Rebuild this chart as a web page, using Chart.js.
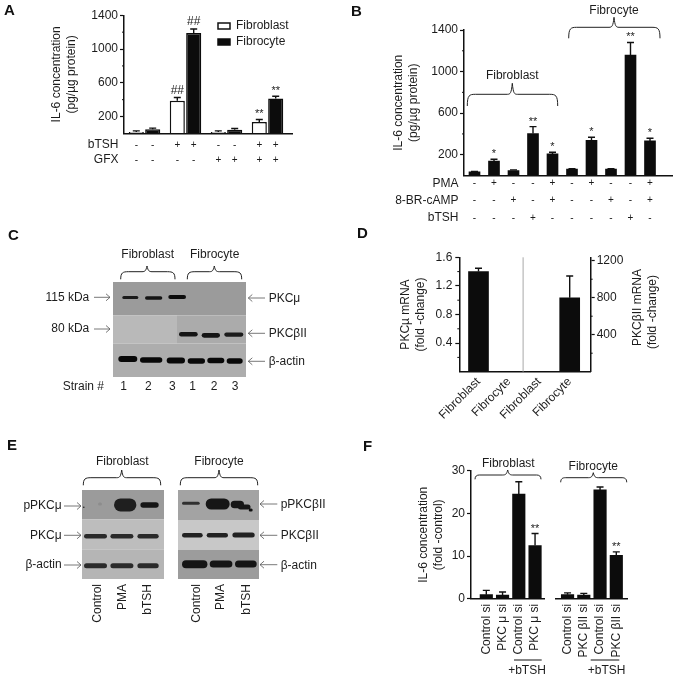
<!DOCTYPE html>
<html><head><meta charset="utf-8">
<script src="https://cdn.jsdelivr.net/npm/chart.js@4/dist/chart.umd.min.js"></script>
<style>
html,body{margin:0;padding:0;background:#fff}
#page{position:relative;width:676px;height:678px;overflow:hidden;background:#fff;font-family:"Liberation Sans",Arial,sans-serif;color:#1c1c1c;filter:blur(0.3px)}
canvas{position:absolute}
svg{position:absolute;left:0;top:0}
.t{position:absolute;font-size:12px;line-height:14px;white-space:nowrap}
.p{font-weight:bold;font-size:15px;color:#111}
</style></head><body><div id="page"></div>
<script>
/* ---------- DATA ---------- */
const aGroups=['Untreated','bTSH','GFX','bTSH + GFX'];
const aFibroblast=[16,386,16,134];
const aFibroblastTop=[30,425,30,165];
const aFibroblastMarks=['','##','','**'];
const aFibrocyte=[50,1190,43,414];
const aFibrocyteTop=[62,1237,58,441];
const aFibrocyteMarks=['','##','','**'];
const aRowBtsh=['-','-','+','+','-','-','+','+'];
const aRowGfx=['-','-','-','-','+','+','+','+'];

const bCategories=['Fb ctrl','Fb PMA','Fb cAMP','Fb bTSH','Fb PMA+cAMP','Fc ctrl','Fc PMA','Fc cAMP','Fc bTSH','Fc PMA+cAMP'];
const bValues=[35,138,48,403,208,61,339,61,1158,333];
const bTops=[40,157,54,470,224,66,368,66,1280,358];
const bMarks=['','*','','**','*','','*','','**','*'];
const bRowPma=['-','+','-','-','+','-','+','-','-','+'];
const bRowCamp=['-','-','+','-','+','-','-','+','-','+'];
const bRowBtsh=['-','-','-','+','-','-','-','-','+','-'];

const dCategories=['Fibroblast','Fibrocyte','Fibroblast','Fibrocyte'];
const dPkcMu=[1.4,0,null,null];
const dPkcMuTop=[1.446,null,null,null];
const dPkcBeta=[null,null,0,800];
const dPkcBetaTop=[null,null,null,1035];
const dRightTicks=[0,200,400,600,800,1000,1200];

const fCategories=['Control si','PKC μ si','Control si','PKC μ si','','Control si','PKC βII si','Control si','PKC βII si'];
const fValues=[1.0,0.9,24.5,12.5,null,1.0,0.9,25.5,10.2];
const fTops=[2.0,1.6,27.4,15.3,null,1.4,1.3,26.2,11.0];
const fMarks=['','','','**','','','','','**'];

/* blot bands: [start, end, row position, thickness, shade] */
const cBands=[
[9.3,25.3,15.6,3,'#1a1a1a'],[32,49.3,16,3.5,'#141414'],[55.3,73,15,4,'#0c0c0c'],
[66,84.7,52.3,4.5,'#141414'],[88.7,107,53.3,4.7,'#141414'],[111.3,130.3,52.6,4.1,'#1c1c1c'],
[5.3,24.3,77,6,'#080808'],[27,49.3,78,5.5,'#080808'],[53.7,72,78.6,6,'#080808'],
[74.7,92,79,5.5,'#080808'],[94.3,111.3,78.6,5.5,'#080808'],[113.7,129.7,79,5.5,'#080808']];
const cRegions=[[0,133,0,33.5,'#9b9b9b'],[0,64,33.5,61.5,'#b9b9b9'],[64,133,33.5,61.5,'#ababab'],[0,133,61.5,95,'#adadad']];
const eLeftBands=[
[1,1.8,17.3,1.6,'#222'],[16,20,14,3,'#8d8d8d'],[32,54.4,15,13,'#1f1f1f'],[58.4,76.7,15,5.5,'#141414'],
[2,25,46.3,4.5,'#2a2a2a'],[28.4,51.4,46.3,4.5,'#2a2a2a'],[55.4,76.7,46.3,4.5,'#2a2a2a'],
[2,25,76,5,'#2a2a2a'],[28.4,51.4,76,5,'#2a2a2a'],[55.4,76.7,76,5,'#2a2a2a']];
const eLeftRegions=[[0,82,0,29.5,'#9b9b9b'],[0,82,29.5,60,'#bdbdbd'],[0,82,60,89.3,'#b5b5b5']];
const eRightBands=[
[4,21.7,13.3,3,'#303030'],[27.7,51.7,14,11,'#161616'],[52.7,66,14.6,7.5,'#161616'],[60,72.5,17,5,'#161616'],[71.7,73.7,20,3,'#111'],
[4,24.7,45.3,4.5,'#222'],[28.7,50,45.3,4.5,'#222'],[54.4,76.7,45,5,'#222'],
[4,29.4,74.3,8,'#151515'],[31.7,54.4,74,7,'#151515'],[57,78.7,74,7,'#151515']];
const eRightRegions=[[0,81,0,30,'#a3a3a3'],[0,81,30,60,'#c8c8c8'],[0,81,60,89,'#9c9c9c']];

/* ---------- HELPERS ---------- */
const FONT='"Liberation Sans",Arial,sans-serif', INK='#1c1c1c', BLACK='#0c0c0c';
Chart.defaults.font.family=FONT; Chart.defaults.font.size=12; Chart.defaults.color=INK;
const page=document.getElementById('page');
function mk(box){const c=document.createElement('canvas');c.width=box.w;c.height=box.h;c.style.left=box.x+'px';c.style.top=box.y+'px';c.style.width=box.w+'px';c.style.height=box.h+'px';page.appendChild(c);return c;}
function txt(s,x,y,o={}){const d=document.createElement('div');d.className='t '+(o.cls||'');d.textContent=s;
 d.style.left=x+'px';d.style.top=y+'px';
 const a=o.anchor||'start';
 const tx=a=='end'?'-100%':a=='middle'?'-50%':'0';
 d.style.transform=o.rot?'rotate(-90deg) translate(-100%,-50%)':`translate(${tx},-50%)`;
 if(o.rot)d.style.transformOrigin='0 0';
 if(o.size)d.style.fontSize=o.size+'px';
 page.appendChild(d);}
function slotFit(plotL,plotR,first,step){return s=>{s._startValue=-(first-plotL)/step;s._valueRange=(plotR-plotL)/step;};}
function fixW(w){return s=>{s.width=w;s.paddingLeft=s.paddingRight=s.paddingTop=s.paddingBottom=0;};}
function fixH(h){return s=>{s.height=h;s.paddingLeft=s.paddingRight=s.paddingTop=s.paddingBottom=0;};}
function yAxis(o){
 return Object.assign({type:'linear',min:o.min||0,max:o.max,position:o.position||'left',
  afterFit:fixW(o.w),afterBuildTicks:o.tickValues?s=>{s.ticks=o.tickValues.map(value=>({value}));}:undefined,
  border:{color:'#111',width:1.5},
  grid:{drawOnChartArea:false,drawTicks:true,tickLength:4,tickWidth:1.2,
    tickColor:c=>o.isMajor(c.tick.value)?'#111':'rgba(0,0,0,0)'},
  ticks:{stepSize:o.step,autoSkip:false,padding:o.pad||2,color:INK,font:{size:12},
    callback:(v)=>o.labelled(v)?o.fmt(v):''},
  title:o.title?{display:true,text:o.title,color:INK,font:{size:12,lineHeight:1.25},padding:0}:{display:false}
 });
}
/* shared figure plugin: error bars, marks, +/- rows, minor ticks */
const figurePlugin={id:'figure',
 afterDatasetsDraw(ch){
  const ctx=ch.ctx;ctx.save();ctx.strokeStyle='#111';ctx.lineWidth=1.4;
  ch.data.datasets.forEach((ds,di)=>{
   const meta=ch.getDatasetMeta(di),sc=ch.scales[meta.yAxisID];
   meta.data.forEach((bar,i)=>{
    const top=ds.tops&&ds.tops[i];
    if(top==null||ds.data[i]==null)return;
    const y=sc.getPixelForValue(top),y0=sc.getPixelForValue(ds.data[i]);
    ctx.beginPath();ctx.moveTo(bar.x,y0);ctx.lineTo(bar.x,y);ctx.moveTo(bar.x-3.5,y);ctx.lineTo(bar.x+3.5,y);ctx.stroke();
    const mark=ds.marks&&ds.marks[i];
    if(mark){ctx.save();ctx.fillStyle=INK;ctx.textAlign='center';ctx.textBaseline='alphabetic';
      const hash=mark[0]=='#';ctx.font=(hash?12:11)+'px '+FONT;
      ctx.fillText(mark,bar.x,y-(hash?4:2));ctx.restore();}
   });
  });
  ctx.restore();
 },
 afterDraw(ch){
  const ctx=ch.ctx,o=ch.options.plugins.figure||{};
  ctx.save();
  /* minor ticks */
  Object.values(ch.scales).forEach(s=>{ if(s.axis!='y'||!s.options.minorLen)return;
    ctx.strokeStyle='#111';ctx.lineWidth=1;
    s.ticks.forEach(t=>{ if(t.label!==''||t.value===0)return;
      const y=s.getPixelForValue(t.value),x=s.position=='left'?s.right:s.left,d=s.position=='left'?-s.options.minorLen:s.options.minorLen;
      ctx.beginPath();ctx.moveTo(x,y);ctx.lineTo(x+d,y);ctx.stroke();});
  });
  /* +/- rows below the bars */
  if(o.rows){
    const xs=[];const n=ch.data.labels.length;
    for(let i=0;i<n;i++)ch.data.datasets.forEach((d,di)=>xs.push(ch.getDatasetMeta(di).data[i].x));
    o.rows.forEach(r=>{
      ctx.fillStyle=INK;ctx.textBaseline='middle';ctx.textAlign='right';ctx.font='12px '+FONT;
      ctx.fillText(r.name,o.labelX,r.y);
      ctx.textAlign='center';ctx.font='10px '+FONT;
      r.flags.forEach((f,i)=>ctx.fillText(f,xs[i],r.y));
    });
  }
  /* divider between two category pairs */
  if(o.divider){const s=ch.scales.x,x=(s.getPixelForValue(1)+s.getPixelForValue(2))/2-1;
    ctx.strokeStyle='#a8a8a8';ctx.lineWidth=1;ctx.beginPath();ctx.moveTo(x,ch.chartArea.top);ctx.lineTo(x,ch.chartArea.bottom);ctx.stroke();}
  /* break in the baseline at the blank slot */
  if(o.gapSlot!=null){const s=ch.scales.x,x=s.getPixelForValue(o.gapSlot);
    ctx.clearRect(x-6,ch.chartArea.bottom-2,10,4);}
  ctx.restore();
 },
 afterLayout(ch){const o=ch.options.plugins.figure||{},l=ch.legend;
  if(o.legendAt&&l){const w=l.width,h=l.height;l.left=o.legendAt[0];l.top=o.legendAt[1];l.right=l.left+w;l.bottom=l.top+h;}
 }
};
function barChart(box,plot,cfg){
 const c=mk(box);
 const axisW=plot.l-cfg.titleX+7.5;
 const rW=cfg.rightW||0,xH=cfg.xH||0;
 const scales={x:Object.assign({type:'category',offset:true,afterBuildTicks:slotFit(plot.l,plot.r,cfg.first,cfg.step),afterFit:fixH(xH),
    border:{color:'#111',width:1.5},grid:{display:false,drawTicks:false},ticks:{display:false}},cfg.x||{})};
 Object.assign(scales,cfg.scales(axisW));
 return new Chart(c,{type:'bar',data:{labels:cfg.labels,datasets:cfg.datasets},plugins:[figurePlugin],
  options:{responsive:false,animation:false,devicePixelRatio:1,
   layout:{padding:{left:cfg.titleX-7.5-box.x,top:plot.t-box.y,right:box.x+box.w-plot.r-rW,bottom:box.y+box.h-plot.b-xH}},
   scales,
   plugins:{legend:cfg.legend||{display:false},tooltip:{enabled:false},title:{display:false},figure:cfg.figure||{}}}});
}

/* ---------- PANEL A ---------- */
const aMajor=v=>v%400==200;
barChart({x:0,y:0,w:340,h:200},{l:124,r:292.5,t:15.3,b:133.4},{
 titleX:57,labels:aGroups,first:144.5,step:41,
 datasets:[
  {label:'Fibroblast',data:aFibroblast,tops:aFibroblastTop,marks:aFibroblastMarks,backgroundColor:'#fff',borderColor:'#111',borderWidth:1.5,categoryPercentage:.8,barPercentage:.92},
  {label:'Fibrocyte',data:aFibrocyte,tops:aFibrocyteTop,marks:aFibrocyteMarks,backgroundColor:BLACK,borderColor:BLACK,borderWidth:1.5,categoryPercentage:.8,barPercentage:.92}],
 scales:w=>({y:Object.assign(yAxis({max:1400,step:200,w,isMajor:aMajor,labelled:aMajor,fmt:String,title:['IL-6 concentration','(pg/µg protein)']}),{minorLen:2})}),
 legend:{display:true,position:'chartArea',align:'start',labels:{boxWidth:12,boxHeight:6,padding:4,color:INK,font:{size:12},textAlign:'left'}},
 figure:{labelX:118.5,legendAt:[214,16],rows:[{name:'bTSH',flags:aRowBtsh,y:145},{name:'GFX',flags:aRowGfx,y:160}]}
});

/* ---------- PANEL B ---------- */
barChart({x:340,y:0,w:336,h:240},{l:464,r:672,t:30,b:175.5},{
 titleX:399,labels:bCategories,first:474.5,step:19.5,
 datasets:[{data:bValues,tops:bTops,marks:bMarks,backgroundColor:BLACK,barThickness:11}],
 scales:w=>({y:Object.assign(yAxis({max:1400,step:200,w,isMajor:aMajor,labelled:aMajor,fmt:String,title:['IL-6 concentration','(pg/µg protein)']}),{minorLen:2})}),
 figure:{labelX:118.5,rows:[{name:'PMA',flags:bRowPma,y:183.3},{name:'8-BR-cAMP',flags:bRowCamp,y:200.7},{name:'bTSH',flags:bRowBtsh,y:218}]}
});

/* ---------- PANEL D ---------- */
const dMajor=v=>Math.round(v*10)%4==0&&v>0.01, d2Major=v=>v%400==0&&v>0;
barChart({x:360,y:235,w:316,h:195},{l:459.3,r:590.7,t:257.3,b:371.7},{
 titleX:405.7,labels:dCategories,first:478.5,step:30.4,rightW:40,xH:58,
 x:{ticks:{display:true,autoSkip:false,minRotation:45,maxRotation:45,padding:3,color:INK,font:{size:12}}},
 datasets:[
  {data:dPkcMu,tops:dPkcMuTop,yAxisID:'y',stack:'m',backgroundColor:BLACK,barThickness:20},
  {data:dPkcBeta,tops:dPkcBetaTop,yAxisID:'y2',stack:'m',backgroundColor:BLACK,barThickness:20}],
 scales:w=>({
  y:Object.assign(yAxis({max:1.6,step:.2,w,isMajor:dMajor,labelled:dMajor,fmt:v=>v.toFixed(1),pad:3,title:['PKCµ mRNA','(fold -change)']}),{minorLen:2}),
  y2:Object.assign(yAxis({max:1237,w:40,position:'right',tickValues:dRightTicks,isMajor:d2Major,labelled:d2Major,fmt:String}),{minorLen:2})}),
 figure:{divider:true}
});
txt('PKCβII mRNA',636.7,269,{rot:true});
txt('(fold -change)',652.3,275,{rot:true});

/* ---------- PANEL F ---------- */
const fMajor=v=>v%10==0;
barChart({x:360,y:440,w:316,h:238},{l:471,r:627,t:470.7,b:598.9},{
 titleX:424,labels:fCategories,first:486.3,step:16.25,xH:60,
 x:{ticks:{display:true,autoSkip:false,minRotation:90,maxRotation:90,padding:5,color:INK,font:{size:12}}},
 datasets:[{data:fValues,tops:fTops,marks:fMarks,backgroundColor:BLACK,barThickness:12.5}],
 scales:w=>({y:yAxis({max:30,step:10,w,isMajor:fMajor,labelled:fMajor,fmt:String,title:['IL-6 concentration','(fold -control)']})}),
 figure:{gapSlot:4}
});

/* ---------- BLOTS ---------- */
const blurPlugin={id:'blotBlur',
 beforeDraw(ch){const o=ch.options.plugins.blotBlur,x=ch.scales.x,y=ch.scales.y,ctx=ch.ctx;
  o.regions.forEach(r=>{ctx.fillStyle=r[4];ctx.fillRect(x.getPixelForValue(r[0]),y.getPixelForValue(r[2]),x.getPixelForValue(r[1])-x.getPixelForValue(r[0]),y.getPixelForValue(r[3])-y.getPixelForValue(r[2]));});},
 beforeDatasetsDraw(ch){ch.ctx.save();ch.ctx.filter='blur(0.7px)';},
 afterDatasetsDraw(ch){ch.ctx.restore();}};
function blot(box,regions,bands){
 const c=mk(box);
 new Chart(c,{type:'scatter',plugins:[blurPlugin],
  data:{datasets:bands.map(b=>({data:[{x:b[0]+b[3]/2,y:b[2]},{x:b[1]-b[3]/2,y:b[2]}],showLine:true,pointRadius:0,borderWidth:b[3],borderColor:b[4],borderCapStyle:'round',clip:false}))},
  options:{responsive:false,animation:false,devicePixelRatio:1,layout:{padding:0},
   scales:{x:{type:'linear',min:0,max:box.w,display:false},y:{type:'linear',min:0,max:box.h,reverse:true,display:false}},
   plugins:{legend:{display:false},tooltip:{enabled:false},blotBlur:{regions}}}});
}
blot({x:113,y:281.7,w:133,h:95},cRegions,cBands);
blot({x:82.3,y:490,w:82,h:89.3},eLeftRegions,eLeftBands);
blot({x:178.3,y:490,w:81,h:89},eRightRegions,eRightBands);

/* ---------- BRACES, ARROWS, RULES ---------- */
const NS='http://www.w3.org/2000/svg';
const svg=document.createElementNS(NS,'svg');svg.setAttribute('width',676);svg.setAttribute('height',678);page.appendChild(svg);
function path(d,col,w){const p=document.createElementNS(NS,'path');p.setAttribute('d',d);p.setAttribute('fill','none');p.setAttribute('stroke',col);p.setAttribute('stroke-width',w);svg.appendChild(p);}
function brace(x0,x1,tip,yEnd,y,tipY){
 const r=Math.min(8,yEnd-y);
 path(`M${x0} ${yEnd} C${x0} ${y+1} ${x0+2} ${y} ${x0+r} ${y} L${tip-5} ${y} C${tip-2} ${y} ${tip-1} ${y-1} ${tip} ${tipY} C${tip+1} ${y-1} ${tip+2} ${y} ${tip+5} ${y} L${x1-r} ${y} C${x1-2} ${y} ${x1} ${y+1} ${x1} ${yEnd}`,'#222',1);
}
function arrowR(x0,x1,y){path(`M${x0} ${y} L${x1} ${y} M${x1-4} ${y-3.5} L${x1} ${y} L${x1-4} ${y+3.5}`,'#555',.8);}
function arrowL(x0,x1,y){path(`M${x1} ${y} L${x0} ${y} M${x0+4} ${y-3.5} L${x0} ${y} L${x0+4} ${y+3.5}`,'#555',.8);}
brace(467.3,557.7,512.3,106,94.3,83.3);
brace(568.7,660,614,38.3,27.3,17.3);
brace(120.7,175,147,279.3,271.7,266);
brace(187.3,241.7,214.3,279.3,271.7,266);
brace(83.3,160.7,121.7,485.3,477.7,470);
brace(180.3,257.7,219,485.3,477.7,470);
brace(475,541,507.7,479.3,475,470);
brace(560.7,626.7,593.3,482.3,477.7,472.7);
arrowR(94,110,297.3);arrowR(94,110,329);
arrowL(248.3,265,298);arrowL(248.3,265,333.3);arrowL(248.3,265,361.3);
arrowR(64,81,506);arrowR(64,81,535.3);arrowR(64,81,565);
arrowL(260,277.3,504);arrowL(260,277.3,535.3);arrowL(260,277.3,564.7);
path('M514 660 L541.7 660','#111',1);path('M590.7 660 L619.3 660','#111',1);

/* ---------- TEXT ---------- */
[['A',4,10],['B',351,11],['C',8,235],['D',357,233],['E',7,445],['F',363,446]].forEach(a=>txt(a[0],a[1],a[2],{cls:'p'}));
txt('Fibroblast',512.3,75,{anchor:'middle'});txt('Fibrocyte',614,10,{anchor:'middle'});
txt('Fibroblast',147.7,254,{anchor:'middle'});txt('Fibrocyte',214.7,254,{anchor:'middle'});
txt('115 kDa',89.3,296.7,{anchor:'end'});txt('80 kDa',89.3,328.3,{anchor:'end'});
txt('PKCμ',268.7,298);txt('PKCβII',268.7,333);txt('β-actin',268.7,361);
txt('Strain #',62.7,385.7);
[['1',123.7],['2',148.3],['3',172.3],['1',192.7],['2',214],['3',235]].forEach(a=>txt(a[0],a[1],385.7,{anchor:'middle'}));
txt('Fibroblast',122.3,461,{anchor:'middle'});txt('Fibrocyte',219,461,{anchor:'middle'});
txt('pPKCμ',61.7,505.3,{anchor:'end'});txt('PKCμ',61.7,535,{anchor:'end'});txt('β-actin',61.7,564.3,{anchor:'end'});
txt('pPKCβII',280.7,504);txt('PKCβII',280.7,535);txt('β-actin',280.7,564.5);
[['Control',96.7],['PMA',122.3],['bTSH',147],['Control',195.7],['PMA',220],['bTSH',245.7]].forEach(a=>txt(a[0],a[1],584,{rot:true}));
txt('Fibroblast',508.3,463.3,{anchor:'middle'});txt('Fibrocyte',593.3,466,{anchor:'middle'});
txt('+bTSH',527,670,{anchor:'middle'});txt('+bTSH',606.7,670,{anchor:'middle'});
</script></body></html>
